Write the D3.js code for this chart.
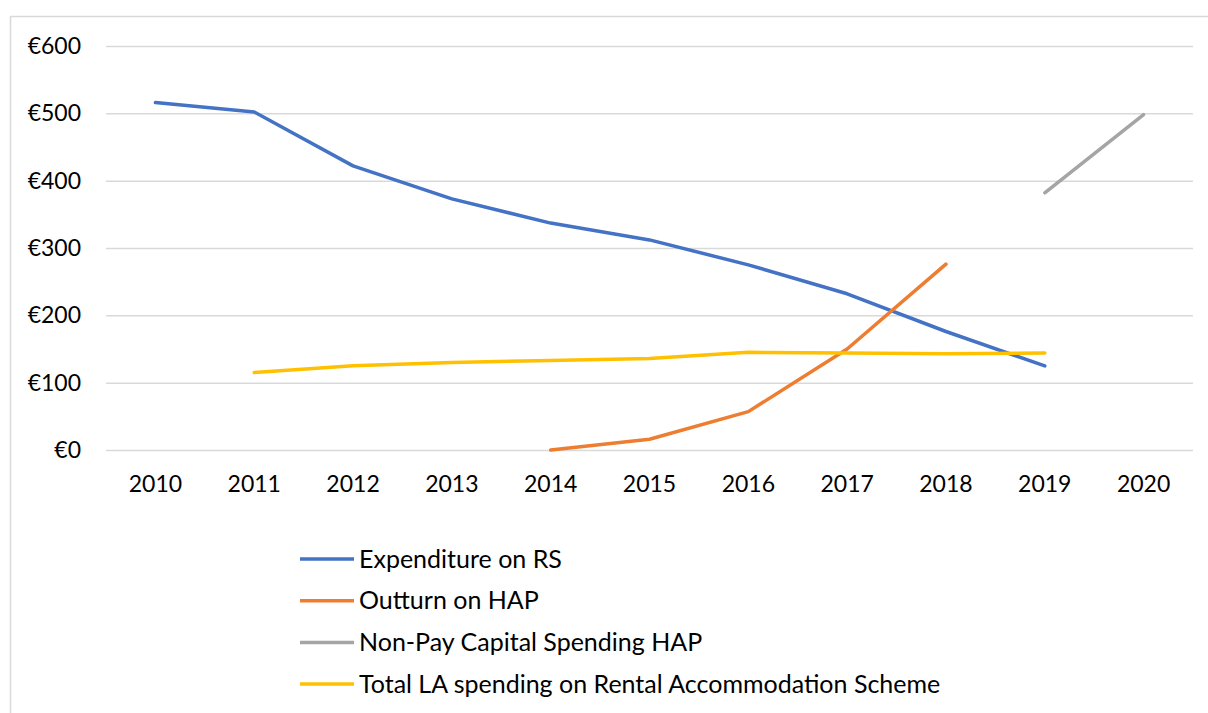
<!DOCTYPE html>
<html>
<head>
<meta charset="utf-8">
<script src="https://cdn.jsdelivr.net/npm/d3@7"></script>
<style>
  body { margin: 0; background: #fff; }
  svg { display: block; font-family: Lato, "Open Sans", sans-serif; }
</style>
</head>
<body>
<svg></svg>
<script>
const years = ["2010", "2011", "2012", "2013", "2014", "2015", "2016", "2017", "2018", "2019", "2020"];
const expenditureRS = [516, 502, 422, 373, 337, 312, 275, 232, 176, 125, null];
const outturnHAP = [null, null, null, null, 0, 16, 57, 150, 276, null, null];
const capitalHAP = [null, null, null, null, null, null, null, null, null, 382, 498];
const rasSpending = [null, 115, 125, 130, 133, 136, 145, 144, 143, 144, null];
const yTicks = [0, 100, 200, 300, 400, 500, 600];

const seriesNames = [
  "Expenditure on RS",
  "Outturn on HAP",
  "Non-Pay Capital Spending HAP",
  "Total LA spending on Rental Accommodation Scheme",
];
const seriesColors = ["#4472C4", "#ED7D31", "#A5A5A5", "#FFC000"];
const seriesValues = [expenditureRS, outturnHAP, capitalHAP, rasSpending];

const width = 1208;
const height = 713;
const plot = { left: 106, right: 1193, top: 46, bottom: 450 };

const svg = d3.select("svg").attr("width", width).attr("height", height);

// chart border (runs off the right and bottom of the picture)
svg.append("rect")
  .attr("x", 10.5).attr("y", 16.5)
  .attr("width", 1300).attr("height", 800)
  .attr("fill", "none")
  .attr("stroke", "#d9d9d9")
  .attr("stroke-width", 1.5);

const xScale = d3.scaleBand().domain(years).range([plot.left, plot.right]);
const yScale = d3.scaleLinear().domain([0, 600]).range([plot.bottom, plot.top]);

const yAxis = d3.axisLeft(yScale)
  .tickValues(yTicks)
  .tickSize(-(plot.right - plot.left))
  .tickPadding(25)
  .tickFormat((d) => "€" + d);

const gy = svg.append("g")
  .attr("id", "y-axis")
  .attr("transform", `translate(${plot.left}, 0)`)
  .call(yAxis);
gy.select(".domain").remove();
gy.selectAll("line").attr("stroke", "#d9d9d9").attr("stroke-width", 1.5);
gy.selectAll("text").attr("fill", "#000").attr("font-size", "23px").attr("font-family", "Lato, sans-serif");

const xAxis = d3.axisBottom(xScale).tickSize(0).tickPadding(26);
const gx = svg.append("g")
  .attr("id", "x-axis")
  .attr("transform", `translate(0, ${plot.bottom})`)
  .call(xAxis);
gx.select(".domain").remove();
gx.selectAll("text").attr("fill", "#000").attr("font-size", "23px").attr("font-family", "Lato, sans-serif");

const xPos = (i) => xScale(years[i]) + xScale.bandwidth() / 2;

const line = d3.line()
  .defined((d) => d != null)
  .x((d, i) => xPos(i))
  .y((d) => yScale(d));

seriesValues.forEach((vals, k) => {
  svg.append("path")
    .datum(vals)
    .attr("fill", "none")
    .attr("stroke", seriesColors[k])
    .attr("stroke-width", 3.5)
    .attr("stroke-linejoin", "round")
    .attr("stroke-linecap", "round")
    .attr("d", line);
});

// legend
const legend = svg.append("g").attr("transform", "translate(300, 559)");
seriesNames.forEach((name, k) => {
  const row = legend.append("g").attr("transform", `translate(0, ${k * 41.7})`);
  row.append("line")
    .attr("x1", 0).attr("x2", 54)
    .attr("stroke", seriesColors[k])
    .attr("stroke-width", 3.5);
  row.append("text")
    .attr("x", 59)
    .attr("dy", "0.35em")
    .attr("font-size", "25px")
    .attr("fill", "#000")
    .text(name);
});
</script>
</body>
</html>
